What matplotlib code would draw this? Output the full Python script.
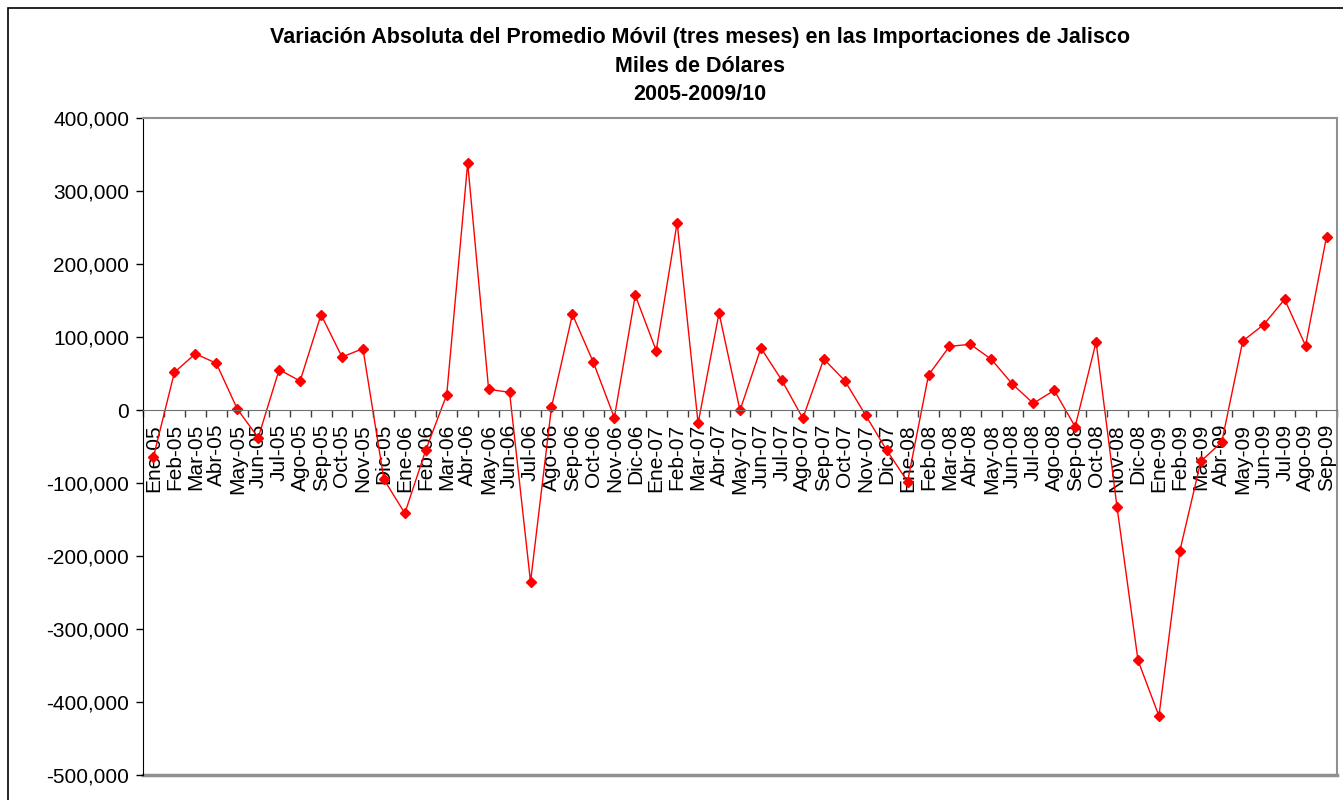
import matplotlib.pyplot as plt
from matplotlib.patches import Rectangle
from matplotlib.ticker import FuncFormatter, FixedLocator

plt.rcParams['font.family'] = ['Liberation Sans', 'DejaVu Sans']

# Month labels (Spanish abbreviations)
months = ['Ene', 'Feb', 'Mar', 'Abr', 'May', 'Jun', 'Jul', 'Ago', 'Sep', 'Oct', 'Nov', 'Dic']
labels = [f'{m}-{y:02d}' for y in range(5, 9) for m in months] + [f'{m}-09' for m in months[:9]]

# Absolute variation of the 3-month moving average (thousand dollars)
values_2005 = [-64000, 51600, 77100, 64000, 1400, -37900, 55300, 39700, 130600, 72600, 84000, -95000]
values_2006 = [-141500, -54800, 21000, 338400, 28300, 24200, -235600, 3700, 131000, 65300, -10500, 157100]
values_2007 = [81300, 256600, -18300, 132900, -500, 84900, 40600, -11400, 69900, 40200, -7300, -54800]
values_2008 = [-98200, 47900, 87200, 90000, 69400, 35600, 9100, 26900, -22800, 93200, -133300, -342900]
values_2009 = [-419200, -192700, -70300, -43800, 94500, 116900, 151600, 88100, 237400]
values = values_2005 + values_2006 + values_2007 + values_2008 + values_2009

x = list(range(len(values)))

fig = plt.figure(figsize=(13.43, 8), dpi=100)
ax = fig.add_axes([143 / 1343, 25 / 800, 1194 / 1343, 657 / 800])

ax.plot(x, values, color='red', linewidth=1, marker='D', markersize=5,
        markerfacecolor='red', markeredgecolor='red')

ax.set_xlim(-0.5, len(values) - 0.5)
ax.set_ylim(-500000, 400000)
ax.set_yticks(range(-500000, 400001, 100000))
ax.yaxis.set_major_formatter(FuncFormatter(lambda v, p: f'{int(v):,}'))
ax.tick_params(axis='y', labelsize=15, direction='out', length=5, width=1, pad=5)

# category axis crossing at zero
ax.spines['bottom'].set_position(('data', 0))
ax.spines['bottom'].set_color('#707070')
ax.spines['left'].set_color('black')
ax.spines['top'].set_color('#909090')
ax.spines['right'].set_color('#909090')
ax.spines['top'].set_linewidth(1.5)
ax.spines['right'].set_linewidth(1.5)
ax.axhline(-500000, color='#909090', linewidth=2.5, clip_on=False, zorder=0)

ax.set_xticks(x)
ax.set_xticklabels(labels, rotation=90, fontsize=15)
ax.tick_params(axis='x', which='major', length=0, pad=10)
ax.xaxis.set_minor_locator(FixedLocator([i - 0.5 for i in range(len(values) + 1)]))
ax.tick_params(axis='x', which='minor', length=5, width=1, color='#404040', direction='out')

title_lines = ['Variación Absoluta del Promedio Móvil (tres meses) en las Importaciones de Jalisco',
               'Miles de Dólares',
               '2005-2009/10']
for i, line in enumerate(title_lines):
    fig.text(700 / 1343, 1 - (38 + 28 * i) / 800, line,
             ha='center', va='center', fontsize=15.5, fontweight='bold')

# outer chart frame
fig.patches.append(Rectangle((8 / 1343, -0.1), 1.2, 0.1 + 1 - 8 / 800,
                             transform=fig.transFigure, fill=False,
                             edgecolor='black', linewidth=1.2))

fig.savefig('out.png', dpi=100)
